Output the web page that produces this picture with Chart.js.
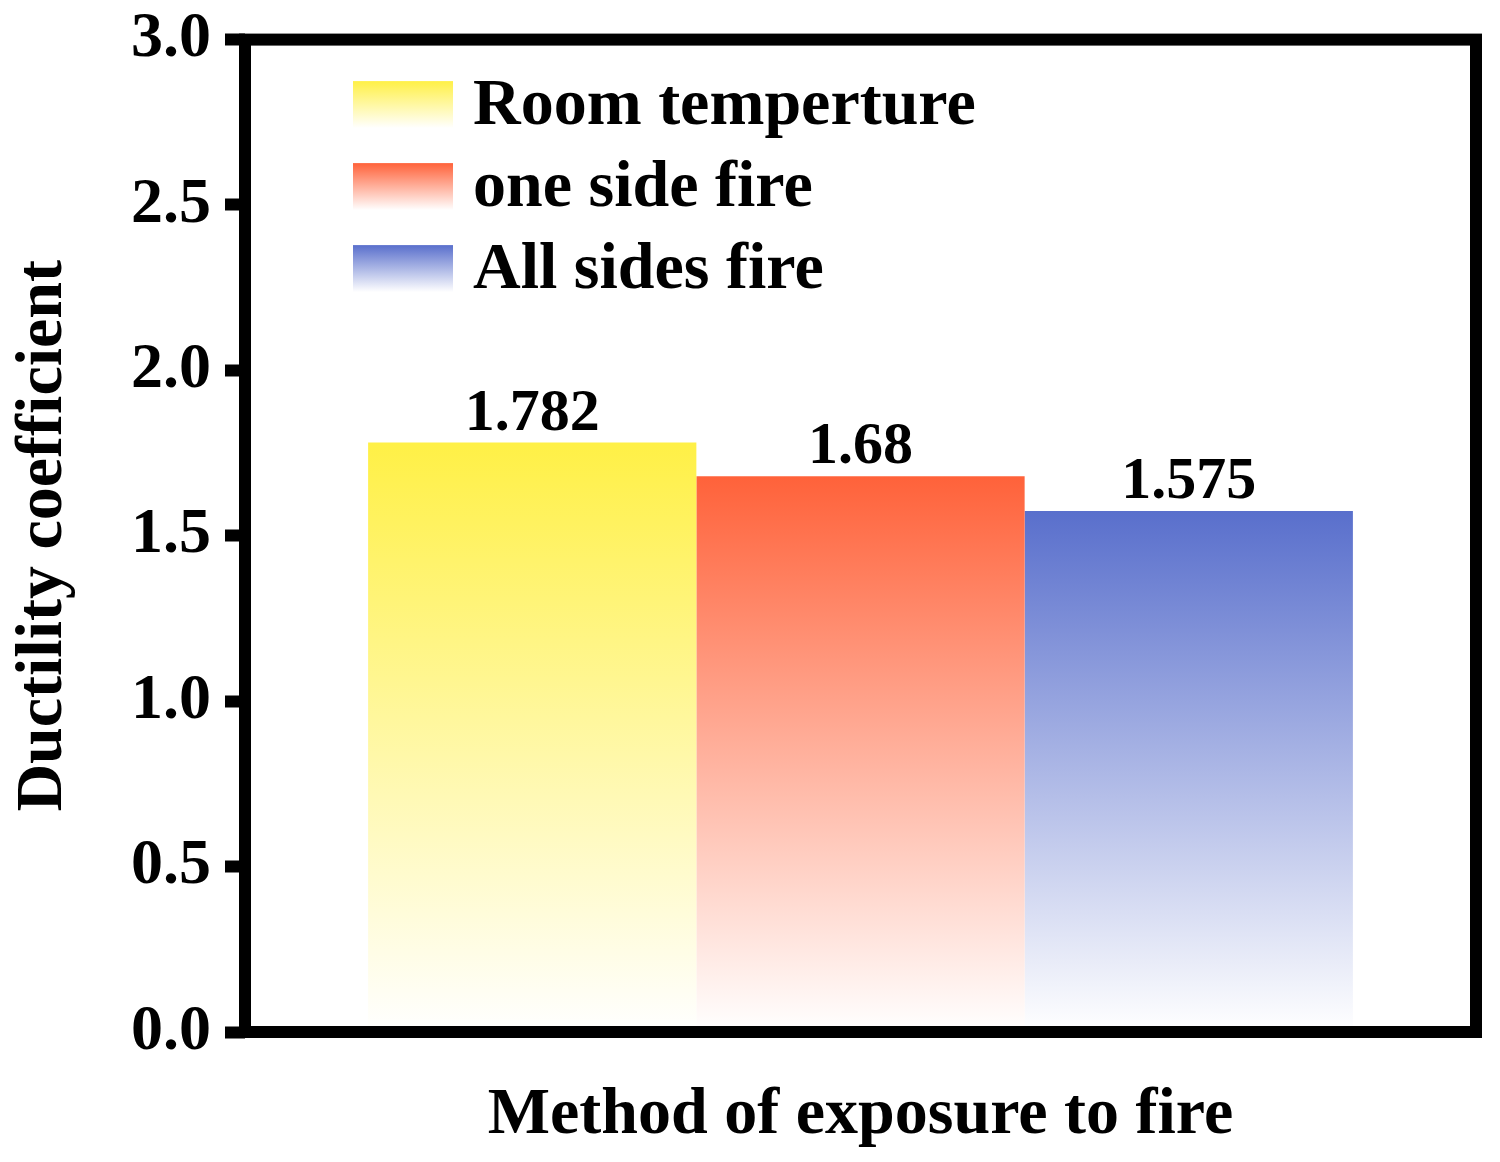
<!DOCTYPE html>
<html>
<head>
<meta charset="utf-8">
<script src="https://cdn.jsdelivr.net/npm/chart.js@4/dist/chart.umd.min.js"></script>
<style>
  html, body { margin: 0; padding: 0; background: #fff; }
  #wrap { width: 1500px; height: 1162px; }
</style>
</head>
<body>
<div id="wrap"><canvas id="ductilityChart"></canvas></div>
<script>
// data
const categories = [''];
const seriesNames = ['Room temperture', 'one side fire', 'All sides fire'];
const seriesValues = [1.782, 1.68, 1.575];
const seriesColors = ['#FFF046', '#FF623A', '#596FCC'];
const yMin = 0, yMax = 3, yStep = 0.5;

const serif = "'Liberation Serif', 'Times New Roman', serif";

function barGradient(context) {
    const chart = context.chart;
    const color = seriesColors[context.datasetIndex];
    if (!chart.chartArea) return color;
    const yScale = chart.scales.y;
    const top = yScale.getPixelForValue(context.parsed ? context.parsed.y : seriesValues[context.datasetIndex]);
    const bottom = yScale.getPixelForValue(0);
    const g = chart.ctx.createLinearGradient(0, top, 0, bottom);
    g.addColorStop(0, color);
    g.addColorStop(1, '#ffffff');
    return g;
}

// frame around the plot, value labels and legend
const decorations = {
    id: 'decorations',
    afterDatasetsDraw(chart) {
        const ctx = chart.ctx;
        const area = chart.chartArea;
        ctx.save();
        // values above bars
        ctx.fillStyle = '#000';
        ctx.font = 'bold 60px ' + serif;
        ctx.textAlign = 'center';
        ctx.textBaseline = 'alphabetic';
        chart.data.datasets.forEach((ds, i) => {
            const bar = chart.getDatasetMeta(i).data[0];
            ctx.fillText(String(ds.data[0]), bar.x, bar.y - 13);
        });

        // legend
        const sx = area.left + 108, sw = 100, sh = 47;
        let cy = area.top + 65;
        ctx.font = 'bold 66px ' + serif;
        ctx.textAlign = 'left';
        ctx.textBaseline = 'middle';
        seriesNames.forEach((name, i) => {
            const g = ctx.createLinearGradient(0, cy - sh / 2, 0, cy + sh / 2);
            g.addColorStop(0, seriesColors[i]);
            g.addColorStop(1, '#ffffff');
            ctx.fillStyle = g;
            ctx.fillRect(sx, cy - sh / 2, sw, sh);
            ctx.fillStyle = '#000';
            ctx.fillText(name, sx + sw + 20, cy + 2);
            cy += 82;
        });

        // frame
        ctx.strokeStyle = '#000';
        ctx.lineWidth = 12;
        ctx.strokeRect(area.left, area.top, area.right - area.left, area.bottom - area.top);
        ctx.restore();
    }
};

const ductilityChart = new Chart(
    document.getElementById('ductilityChart'),
    {
        type: 'bar',
        data: {
            labels: categories,
            datasets: seriesNames.map((name, i) => ({
                label: name,
                data: [seriesValues[i]],
                backgroundColor: barGradient,
                borderWidth: 0,
                categoryPercentage: 0.8,
                barPercentage: 1.0
            }))
        },
        options: {
            responsive: true,
            maintainAspectRatio: false,
            animation: false,
            layout: { padding: { top: 31, right: 24, bottom: 0, left: 0 } },
            plugins: {
                legend: { display: false },
                tooltip: { enabled: false }
            },
            scales: {
                x: {
                    grid: { display: false },
                    border: { display: false },
                    ticks: { display: false },
                    title: {
                        display: true,
                        text: 'Method of exposure to fire',
                        color: '#000',
                        font: { family: serif, size: 66, weight: 'bold' },
                        padding: { top: 0, bottom: 6 }
                    },
                    afterFit(scale) { scale.height = 130; }
                },
                y: {
                    min: yMin,
                    max: yMax,
                    grid: {
                        drawOnChartArea: false,
                        drawTicks: true,
                        tickLength: 20,
                        tickWidth: 12,
                        tickColor: '#000'
                    },
                    border: { display: false },
                    ticks: {
                        stepSize: yStep,
                        padding: 14,
                        color: '#000',
                        font: { family: serif, size: 64, weight: 'bold', lineHeight: 0.8 },
                        callback: v => Number(v).toFixed(1)
                    },
                    title: {
                        display: true,
                        text: 'Ductility coefficient',
                        color: '#000',
                        font: { family: serif, size: 66, weight: 'bold' },
                        padding: { top: 4, bottom: 0 }
                    },
                    afterFit(scale) { scale.width = 245; }
                }
            }
        },
        plugins: [decorations]
    }
);
</script>
</body>
</html>
